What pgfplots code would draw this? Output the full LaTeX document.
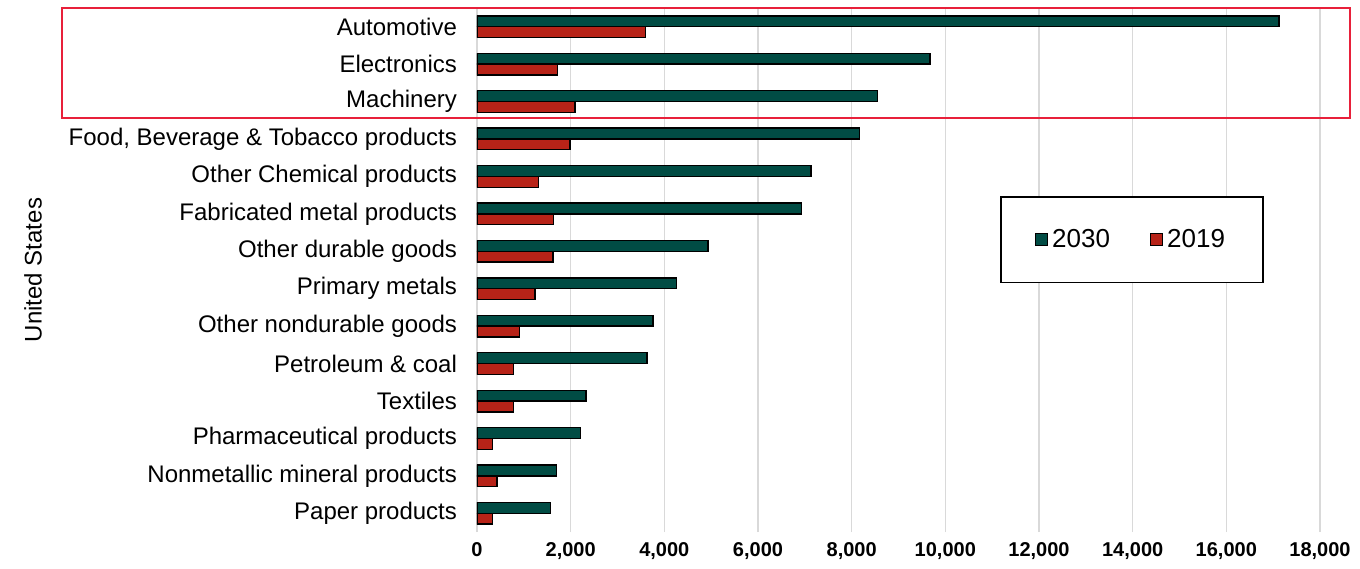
\documentclass[border=0pt]{standalone}
\usepackage{pgfplots}
\pgfplotsset{compat=1.18}
\usepackage{fontspec}
\setmainfont{Liberation Sans}
\definecolor{cTeal}{RGB}{1,76,68}
\definecolor{cRed}{RGB}{183,35,24}
\definecolor{cGrid}{RGB}{217,217,217}
\definecolor{cBox}{RGB}{232,32,58}
\begin{document}
\begin{tikzpicture}
\begin{axis}[
  name=ax,
  at={(0,0)}, anchor=south west,
  scale only axis,
  width=421.5pt, height=262pt,
  xbar, bar width=5.4pt,
  xmin=0, xmax=18000,
  ymin=-0.5, ymax=13.5,
  xtick={0,2000,...,18000},
  ytick={0,...,13},
  yticklabels={Paper products,Nonmetallic mineral products,Pharmaceutical products,Textiles,Petroleum \& coal,Other nondurable goods,Primary metals,Other durable goods,Fabricated metal products,Other Chemical products,{Food, Beverage \& Tobacco products},Machinery,Electronics,Automotive},
  axis line style={draw=none},
  major tick length=0pt,
  xmajorgrids, ymajorgrids=false,
  major grid style={cGrid, line width=0.8pt},
  /pgf/number format/assume math mode=true,
  /pgf/number format/1000 sep={,},
  scaled x ticks=false,
  xticklabel style={font=\bfseries\fontsize{10}{12}\selectfont, yshift=-1.5pt},
  yticklabel style={font=\fontsize{12}{14}\selectfont, xshift=-6.5pt},
  ylabel={United States},
  every axis y label/.style={at={(axis description cs:-0.5267,0.5)}, rotate=90, anchor=center, font=\fontsize{12}{14}\selectfont},
  legend columns=2,
  legend style={at={(axis description cs:0.777,0.5575)}, anchor=center, draw=black, line width=0.8pt,
    inner xsep=17pt, inner ysep=14pt, font=\fontsize{13}{15}\selectfont,
    /tikz/every even column/.append style={column sep=18pt}},
  legend image code/.code={\draw[#1,draw=black,line width=0.6pt] (0pt,-3pt) rectangle (6pt,3pt);},
]
\addplot[fill=cTeal, draw=black, line width=0.7pt, bar shift=2.7pt] coordinates {
(1565,0) (1694,1) (2204,2) (2326,3) (3632,4) (3754,5) (4264,6) (4932,7) (6934,8) (7132,9) (8170,10) (8556,11) (9669,12) (17126,13)};
\addlegendentry{2030}
\addplot[fill=cRed, draw=black, line width=0.7pt, bar shift=-2.7pt] coordinates {
(337,0) (431,1) (337,2) (775,3) (775,4) (905,5) (1236,6) (1619,7) (1632,8) (1310,9) (1990,10) (2090,11) (1718,12) (3598,13)};
\addlegendentry{2019}
\end{axis}
\draw[cBox, line width=1.25pt] ([shift={(-207.5pt,207pt)}]ax.south west) rectangle ([shift={(436.5pt,262pt)}]ax.south west);
\pgfresetboundingbox
\path[use as bounding box] ([shift={(-238.5pt,-18pt)}]ax.south west) rectangle ([shift={(441.5pt,266pt)}]ax.south west);
\end{tikzpicture}
\end{document}
